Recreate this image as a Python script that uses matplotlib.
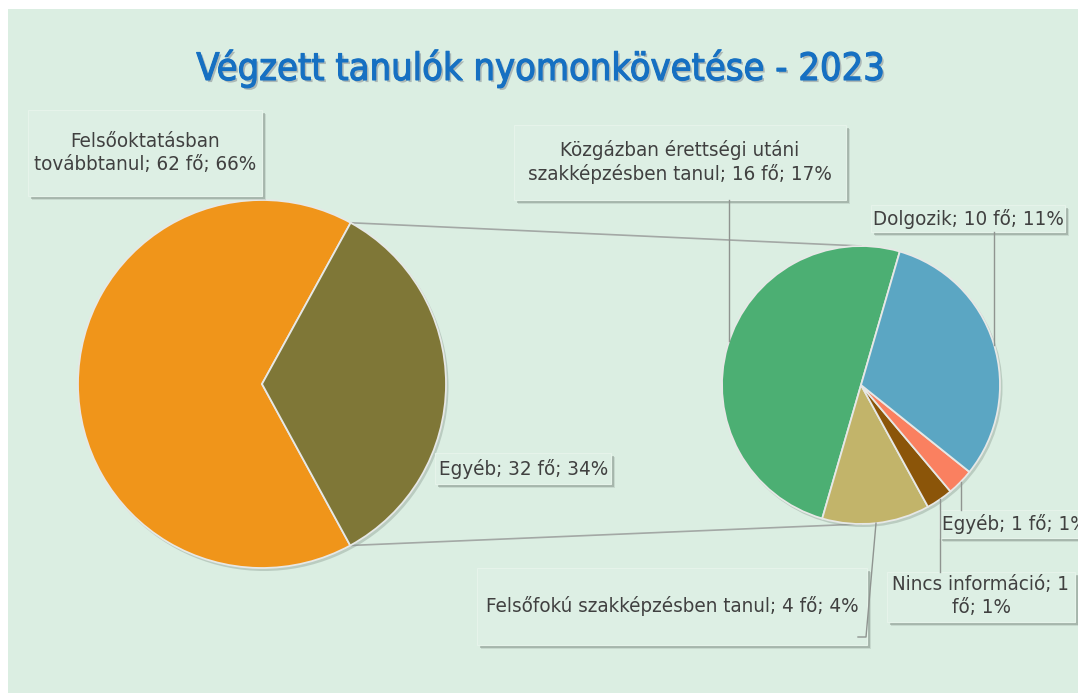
import glob
import textwrap
import matplotlib
matplotlib.use('Agg')
import matplotlib.pyplot as plt
import matplotlib.patheffects as pe
from matplotlib import font_manager as fm
from matplotlib.patches import Rectangle, Circle
import numpy as np

# data
title = 'Végzett tanulók nyomonkövetése - 2023'

main_labels = ['Felsőoktatásban továbbtanul', 'Egyéb']
main_values = [62, 32]
main_colors = ['#f0951a', '#7f7737']

sub_labels = ['Közgázban érettségi utáni szakképzésben tanul',
              'Felsőfokú szakképzésben tanul',
              'Nincs információ',
              'Egyéb',
              'Dolgozik']
sub_values = [16, 4, 1, 1, 10]
sub_colors = ['#4caf73', '#c2b46a', '#8b5509', '#fa8060', '#5ba6c3']

total = sum(main_values)

W, H = 1078, 693
BG = '#dbeee2'
TXT = '#404040'


def find_font(files):
    for name in files:
        hits = glob.glob('/usr/share/fonts/**/' + name, recursive=True)
        hits += [f.fname for f in fm.fontManager.ttflist if f.fname.endswith(name)]
        if hits:
            return hits[0]
    return None


reg_file = find_font(['DejaVuSansCondensed.ttf'])
bold_file = find_font(['DejaVuSansCondensed-Bold.ttf'])


def fprop(size, bold=False):
    f = bold_file if bold else reg_file
    if f is None:
        fp = fm.FontProperties(family='DejaVu Sans', weight='bold' if bold else 'normal')
    else:
        fp = fm.FontProperties(fname=f)
    fp.set_size(size)
    return fp


def P(x, y):
    # picture pixel coords (y down) -> data coords (y up)
    return x, H - y


fig = plt.figure(figsize=(W / 100, H / 100), dpi=100, facecolor='white')
ax = fig.add_axes([0, 0, 1, 1])

ax.add_patch(Rectangle((8, 0), W - 8, H - 9, fc=BG, ec='none', zorder=0))

# pies
c1, r1 = P(262, 384), 184
c2, r2 = P(861, 385), 139

ax.add_patch(Circle((c1[0] + 2, c1[1] - 2.5), r1 + 0.5, fc='#7d8d83', alpha=0.35, ec='none', zorder=1.5))
ax.add_patch(Circle((c2[0] + 2, c2[1] - 2.5), r2 + 0.5, fc='#7d8d83', alpha=0.35, ec='none', zorder=1.5))

wp = dict(edgecolor='#e6e8e6', linewidth=1.3)
w1, _ = ax.pie(main_values, colors=main_colors, startangle=61.2, radius=r1, center=c1,
               counterclock=True, wedgeprops=wp, frame=True)
w2, _ = ax.pie(sub_values, colors=sub_colors, startangle=73.8, radius=r2, center=c2,
               counterclock=True, wedgeprops=wp, frame=True)
for w in list(w1) + list(w2):
    w.set_zorder(2)

# connector lines between the two pies
olive = w1[1]
for th, ty in [(olive.theta2, c2[1] + r2), (olive.theta1, c2[1] - r2)]:
    t = np.radians(th)
    ax.plot([c1[0] + r1 * np.cos(t), c2[0]], [c1[1] + r1 * np.sin(t), ty],
            color='#a3a8a5', lw=1.2, zorder=1)


def edge_y(x, up):
    d = np.sqrt(r2 ** 2 - (x - c2[0]) ** 2)
    return c2[1] + d if up else c2[1] - d


def box(x0, y0, x1, y1):
    ax.add_patch(Rectangle((x0 + 4, H - y1 - 4), x1 - x0, y1 - y0, fc='#8e9c93', ec='none', alpha=0.25, zorder=4))
    ax.add_patch(Rectangle((x0 + 2.5, H - y1 - 2.5), x1 - x0, y1 - y0, fc='#7f8c84', ec='none', alpha=0.45, zorder=4))
    ax.add_patch(Rectangle((x0, H - y1), x1 - x0, y1 - y0, fc='#ddefe4', ec='#e6f3ea', lw=0.8, zorder=5))


def label(name, v, wrap=None):
    s = f'{name}; {v} fő; {round(100 * v / total)}%'
    return textwrap.fill(s, wrap) if wrap else s


lab_fp = fprop(13)

# label boxes: (text, box in px, text pos in px, ha)
boxes = [
    (label(main_labels[0], main_values[0], 24), (28, 110, 262, 196), (145, 153), 'center'),
    (label(main_labels[1], main_values[1]), (435, 453, 611, 484), (439, 469), 'left'),
    (label(sub_labels[0], sub_values[0], 31), (514, 125, 846, 200), (680, 162), 'center'),
    (label(sub_labels[4], sub_values[4]), (871, 205, 1065, 232), (968, 219), 'center'),
    (label(sub_labels[3], sub_values[3]), (939, 510, 1100, 538), (942, 524), 'left'),
    (label(sub_labels[2], sub_values[2], 20), (887, 572, 1075, 622), (981, 596), 'center'),
    (label(sub_labels[1], sub_values[1]), (477, 568, 867, 645), (672, 606), 'center'),
]
texts = []
for s, b, tp, ha in boxes:
    box(*b)
    texts.append(ax.text(*P(*tp), s, ha=ha, va='center', color=TXT, fontproperties=lab_fp,
                         linespacing=1.25, zorder=7))

# leader lines
lc = dict(color='#8f9490', lw=1.0, zorder=6)
ax.plot([729, 729], [H - 200, edge_y(729, True)], **lc)
ax.plot([994, 994], [H - 232, edge_y(994, True)], **lc)
ax.plot([961, 961], [edge_y(961, False), H - 510], **lc)
ax.plot([940, 940], [edge_y(940, False), H - 572], **lc)
ax.plot([876, 866, 858], [edge_y(876, False), H - 637, H - 637], **lc)

ttl = ax.text(*P(540, 80), title, ha='center', va='baseline', color='#1670c2',
              fontproperties=fprop(30), zorder=8,
              path_effects=[pe.SimplePatchShadow(offset=(1.5, -1.5), shadow_rgbFace='#556', alpha=0.35),
                            pe.withStroke(linewidth=0.8, foreground='#1670c2')])

ax.set_xlim(0, W)
ax.set_ylim(0, H)
ax.axis('off')

# fit text widths to the reference
fig.canvas.draw()
rnd = fig.canvas.get_renderer()
k = 688 / ttl.get_window_extent(rnd).width
ttl.set_fontsize(ttl.get_fontsize() * k)
k = 373 / texts[-1].get_window_extent(rnd).width
for t in texts:
    t.set_fontsize(t.get_fontsize() * k)

fig.savefig('out.png', dpi=100, facecolor='white')
